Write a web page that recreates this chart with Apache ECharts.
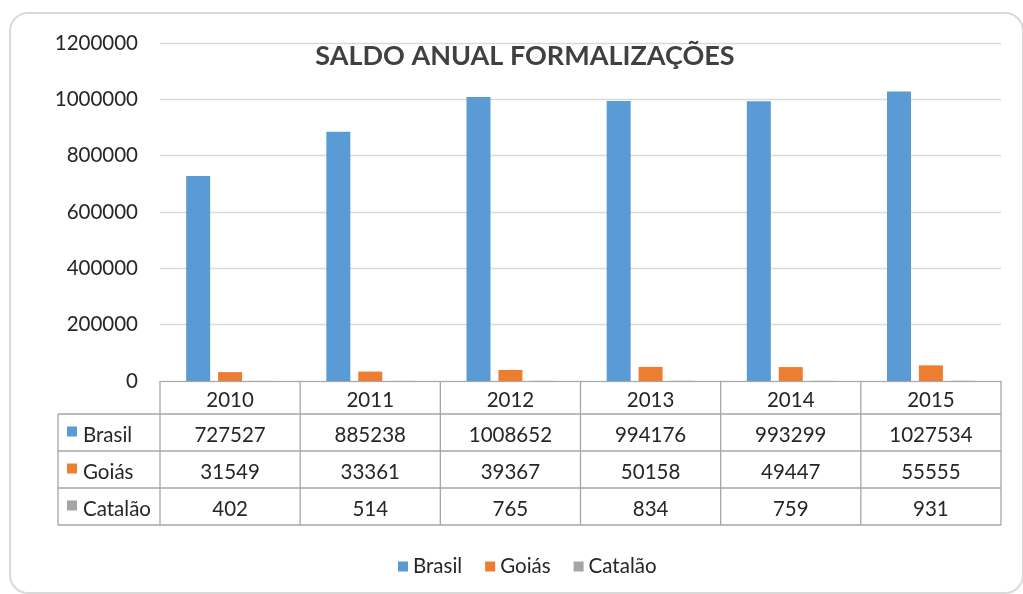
<!DOCTYPE html>
<html>
<head>
<meta charset="utf-8">
<script src="https://cdn.jsdelivr.net/npm/echarts@6/dist/echarts.min.js"></script>
<style>
  html, body { margin: 0; padding: 0; background: #fff; }
  #chart { width: 1023px; height: 594px; }
</style>
</head>
<body>
<div id="chart"></div>
<script>
// dados
var years = ['2010', '2011', '2012', '2013', '2014', '2015'];
var seriesNames = ['Brasil', 'Goiás', 'Catalão'];
var brasil = [727527, 885238, 1008652, 994176, 993299, 1027534];
var goias = [31549, 33361, 39367, 50158, 49447, 55555];
var catalao = [402, 514, 765, 834, 759, 931];
var colors = ['#5B9BD5', '#ED7D31', '#A5A5A5'];

var FONT = 'Lato';
var FS = 20.5;
var chart = echarts.init(document.getElementById('chart'));

var option = {
  animation: false,
  textStyle: { fontFamily: FONT },
  title: {
    text: 'SALDO ANUAL FORMALIZAÇÕES',
    left: 520,
    textAlign: 'center',
    top: 38,
    textStyle: { fontFamily: FONT, fontSize: 27, fontWeight: 'bold', color: '#404040' }
  },
  legend: {
    data: seriesNames,
    left: 393,
    top: 551,
    icon: 'rect',
    itemWidth: 10,
    itemHeight: 10,
    itemGap: 23,
    textStyle: { fontFamily: FONT, fontSize: FS, color: '#262626' }
  },
  grid: { left: 160, right: 22, top: 43, bottom: 213 },
  xAxis: {
    type: 'category',
    data: years,
    axisLine: { lineStyle: { color: '#A6A6A6' } },
    axisTick: { show: false },
    axisLabel: { show: false }
  },
  yAxis: {
    type: 'value',
    min: 0,
    max: 1200000,
    interval: 200000,
    axisLine: { show: false },
    axisTick: { show: false },
    axisLabel: {
      fontFamily: FONT, fontSize: FS, color: '#262626', margin: 22,
      formatter: function (v) { return String(v); }
    },
    splitLine: { lineStyle: { color: '#D9D9D9', width: 1.3 } }
  },
  series: [
    { name: seriesNames[0], type: 'bar', data: brasil, barWidth: 24, barGap: '33%', itemStyle: { color: colors[0] } },
    { name: seriesNames[1], type: 'bar', data: goias, barWidth: 24, barGap: '33%', itemStyle: { color: colors[1] } },
    { name: seriesNames[2], type: 'bar', data: catalao, barWidth: 24, barGap: '33%', itemStyle: { color: colors[2] } }
  ]
};
chart.setOption(option);

// tabela de dados abaixo do eixo
function buildTable() {
  var rows = [brasil, goias, catalao];
  var x0 = chart.convertToPixel({ gridIndex: 0 }, [0, 0]);
  var colW = chart.convertToPixel({ xAxisIndex: 0 }, years[1]) - chart.convertToPixel({ xAxisIndex: 0 }, years[0]);
  var plotLeft = x0[0] - colW / 2;
  var plotRight = plotLeft + colW * years.length;
  var top = 381, headH = 33, rowH = 37, labelLeft = 58;
  var lineStyle = { stroke: '#A6A6A6', lineWidth: 1.3 };
  var els = [];

  // moldura arredondada
  els.push({ type: 'rect', shape: { x: 10, y: 13, width: 1013, height: 580, r: 18 }, style: { fill: 'none', stroke: '#D9D9D9', lineWidth: 2 }, z: -1 });

  function line(x1, y1, x2, y2) {
    els.push({ type: 'line', shape: { x1: x1, y1: y1, x2: x2, y2: y2 }, style: lineStyle, z: 5 });
  }
  function text(str, x, y, align) {
    els.push({ type: 'text', x: x, y: y, style: { text: str, font: FS + 'px ' + FONT, fill: '#262626', align: align || 'center', verticalAlign: 'middle' }, z: 6 });
  }

  var bottom = top + headH + rowH * rows.length;
  for (var r = 0; r <= rows.length; r++) {
    line(labelLeft, top + headH + rowH * r, plotRight, top + headH + rowH * r);
  }
  for (var c = 0; c <= years.length; c++) {
    line(plotLeft + colW * c, top, plotLeft + colW * c, bottom);
  }
  line(labelLeft, top + headH, labelLeft, bottom);

  years.forEach(function (y, i) {
    var cx = chart.convertToPixel({ xAxisIndex: 0 }, y);
    text(y, cx, top + headH / 2 + 3);
    rows.forEach(function (vals, r) {
      text(String(vals[i]), cx, top + headH + rowH * r + rowH / 2 + 3);
    });
  });
  seriesNames.forEach(function (name, r) {
    var cy = top + headH + rowH * r + rowH / 2;
    els.push({ type: 'rect', shape: { x: 67, y: cy - 6, width: 10, height: 10 }, style: { fill: colors[r] }, z: 6 });
    text(name, 83, cy + 3, 'left');
  });
  chart.setOption({ graphic: { elements: els } });
}
buildTable();
</script>
</body>
</html>
